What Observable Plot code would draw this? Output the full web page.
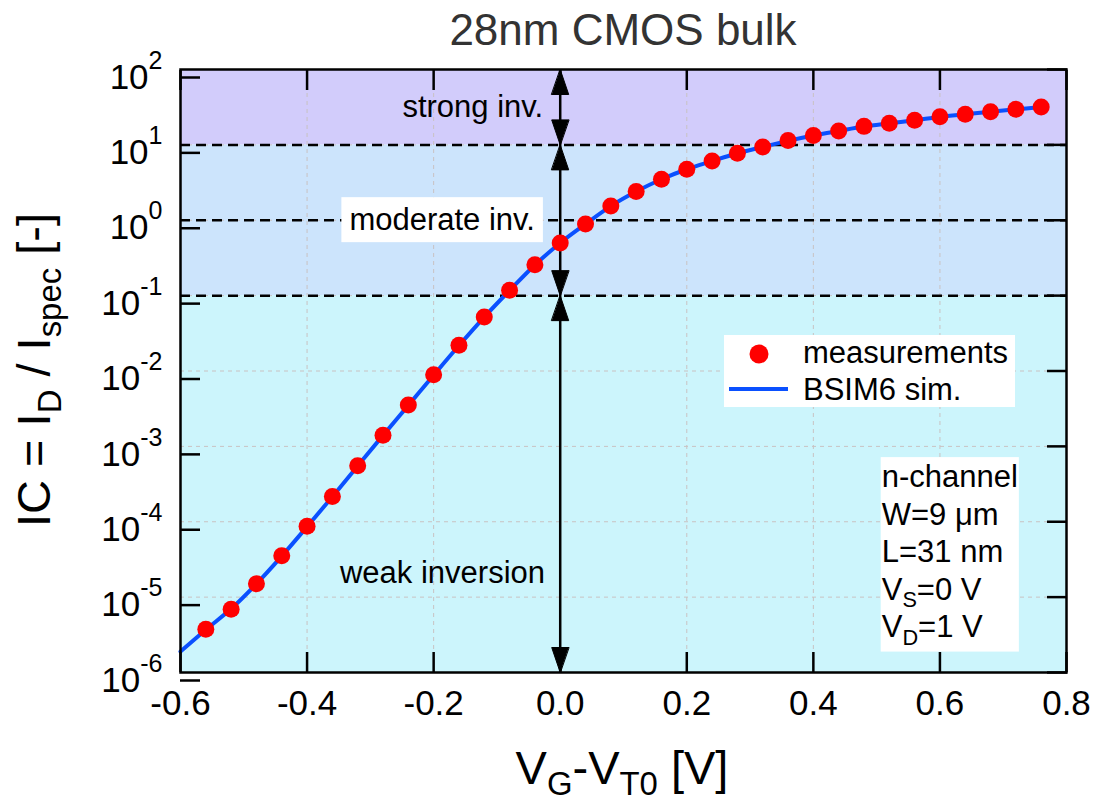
<!DOCTYPE html>
<html>
<head>
<meta charset="utf-8">
<script src="https://cdn.jsdelivr.net/npm/d3@7"></script>
<script src="https://cdn.jsdelivr.net/npm/@observablehq/plot@0.6"></script>
<style>
  body { margin: 0; background: #fff; font-family: "Liberation Sans", Arial, sans-serif; overflow: hidden; }
  #title { box-sizing: border-box; height: 52px; padding: 8px 28px 0 180px; font-size: 44px; line-height: 44px; color: #333; text-align: center; }
  #chart { height: 750px; }
  svg { overflow: visible; display: block; }
</style>
</head>
<body>
<div id="title">28nm CMOS bulk</div>
<div id="chart"></div>
<script>
// ---- data ----
const xMeas = [-0.56,-0.52,-0.48,-0.44,-0.40,-0.36,-0.32,-0.28,-0.24,-0.20,-0.16,-0.12,-0.08,-0.04,
               0.00,0.04,0.08,0.12,0.16,0.20,0.24,0.28,0.32,0.36,0.40,0.44,0.48,0.52,0.56,0.60,0.64,0.68,0.72,0.76];
const icMeas = [3.75e-6,6.9e-6,1.5e-5,3.55e-5,8.7e-5,2.17e-4,5.55e-4,1.4e-3,3.55e-3,8.9e-3,0.022,0.052,0.118,0.257,
                0.50,0.89,1.55,2.4,3.5,4.75,6.1,7.75,9.4,11.4,13.3,15.3,17.6,19.3,21.2,23.6,25.5,27.6,29.6,31.8];
const xSim = [-0.60,-0.56,-0.52,-0.48,-0.44,-0.40,-0.36,-0.32,-0.28,-0.24,-0.20,-0.16,-0.12,-0.08,-0.04,
              0.00,0.04,0.08,0.12,0.16,0.20,0.24,0.28,0.32,0.36,0.40,0.44,0.48,0.52,0.56,0.60,0.64,0.68,0.72,0.76];
const icSim = [1.9e-6,3.7e-6,7.0e-6,1.5e-5,3.5e-5,8.6e-5,2.15e-4,5.5e-4,1.4e-3,3.5e-3,8.8e-3,0.0218,0.052,0.117,0.255,
               0.50,0.89,1.54,2.4,3.5,4.75,6.1,7.75,9.4,11.3,13.3,15.3,17.5,19.3,21.2,23.5,25.5,27.6,29.6,31.8];
const xTicks = [-0.6,-0.4,-0.2,0.0,0.2,0.4,0.6,0.8];
const yTicks = [1e-6,1e-5,1e-4,1e-3,1e-2,1e-1,1,10,100];
const regionNames = ["weak","moderate","strong"];
const regionLo = [1e-6, 0.1, 10];
const regionHi = [0.1, 10, 100];
const regionColors = ["#ccf5fc","#cce4fc","#d2ccfb"];
const boundaries = [0.1, 1, 10];
const arrowTipY = [100, 10, 10, 0.1, 0.1, 1e-6];
const arrowTipDir = ["up","down","up","down","up","down"];
const plainLabels = ["strong inv.","weak inversion"];
const plainLabelX = [-0.027, -0.024];
const plainLabelY = [31.6, 2.1e-5];
const boxedLabels = ["moderate inv."];
const boxedLabelX = [-0.04];
const boxedLabelY = [1];
const deviceInfo = ["n-channel","W=9 μm","L=31 nm","V_{S}=0 V","V_{D}=1 V"];
const deviceInfoX = [0.508];
const deviceInfoY = [6.5e-4];

// ---- build tables ----
const meas = xMeas.map((x, i) => ({x, ic: icMeas[i]}));
const sim = xSim.map((x, i) => ({x, ic: icSim[i]}));
const regions = regionNames.map((name, i) => ({name, lo: regionLo[i], hi: regionHi[i]}));
const tips = arrowTipY.map((y, i) => ({y, dir: arrowTipDir[i]}));
const plain = plainLabels.map((t, i) => ({t, x: plainLabelX[i], y: plainLabelY[i]}));
const boxed = boxedLabels.map((t, i) => ({t, x: boxedLabelX[i], y: boxedLabelY[i]}));
const info = [{t: deviceInfo.join("\n"), x: deviceInfoX[0], y: deviceInfoY[0]}];

const head = {draw(ctx, l) { ctx.moveTo(0, 0); ctx.lineTo(-8.5, -l); ctx.lineTo(8.5, -l); ctx.closePath(); }};
const gridStyle = {stroke: "#c9c2c2", strokeDasharray: "4,4", strokeOpacity: 1, strokeWidth: 1};

const svg = Plot.plot({
  width: 1094, height: 750,
  marginLeft: 180, marginRight: 28, marginTop: 17, marginBottom: 130,
  style: {fontFamily: '"Liberation Sans", Arial, sans-serif', fontSize: "35px", color: "black", background: "transparent", overflow: "visible"},
  x: {domain: [-0.6, 0.8]},
  y: {type: "log", domain: [1e-6, 100]},
  color: {domain: regionNames, range: regionColors},
  marks: [
    Plot.rect(regions, {y1: "lo", y2: "hi", fill: "name"}),
    Plot.gridX({ticks: xTicks, ...gridStyle}),
    Plot.gridY({ticks: yTicks, ...gridStyle}),
    Plot.ruleY(boundaries, {stroke: "black", strokeWidth: 2.5, strokeDasharray: "10,6"}),
    Plot.ruleX([0], {stroke: "black", strokeWidth: 2.5}),
    Plot.vector(tips, {x: 0, y: "y", rotate: d => d.dir === "up" ? 180 : 0, length: 25, anchor: "start",
                       shape: head, fill: "black", stroke: "black", strokeWidth: 1}),
    Plot.line(sim, {x: "x", y: "ic", stroke: "#0a50ff", strokeWidth: 4, curve: "catmull-rom"}),
    Plot.dot(meas, {x: "x", y: "ic", r: 8.5, fill: "#ff0000"}),
    Plot.text(plain, {x: "x", y: "y", text: "t", textAnchor: "end", fontSize: 31, fill: "black"}),
    Plot.text(boxed, {x: "x", y: "y", text: "t", textAnchor: "end", fontSize: 31, fill: "black"}),
    Plot.text(info, {x: "x", y: "y", text: "t", textAnchor: "start", lineAnchor: "top", lineHeight: 1.21, fontSize: 31, fill: "black"}),
    Plot.axisX({ticks: xTicks, tickFormat: d => d.toFixed(1), tickSize: -20, tickPadding: 38, strokeWidth: 2.5, label: null}),
    Plot.axisX({anchor: "top", ticks: xTicks, tickFormat: () => "", tickSize: -20, strokeWidth: 2.5, label: null}),
    Plot.axisY({ticks: yTicks, tickFormat: d => String(Math.round(Math.log10(d))), tickSize: -20, tickPadding: 38, dy: 8, strokeWidth: 2.5, label: null}),
    Plot.axisY({anchor: "right", ticks: yTicks, tickFormat: () => "", tickSize: -20, strokeWidth: 2.5, label: null}),
    Plot.frame({stroke: "black", strokeWidth: 2.5})
  ]
});
document.getElementById("chart").appendChild(svg);

const SVGNS = "http://www.w3.org/2000/svg";
// ---- rich text helpers ----
function richify(node, fs) {
  const s = node.textContent;
  if (!/[_^]\{/.test(s)) return;
  const parts = s.split(/([_^]\{[^}]*\})/).filter(p => p !== "");
  node.textContent = "";
  let shift = 0;
  for (const p of parts) {
    const ts = document.createElementNS(SVGNS, "tspan");
    const m = p.match(/^([_^])\{([^}]*)\}$/);
    if (m) {
      const target = m[1] === "_" ? 0.24 * fs : -0.42 * fs;
      ts.setAttribute("dy", target - shift);
      ts.setAttribute("font-size", 0.7 * fs);
      ts.textContent = m[2];
      shift = target;
    } else {
      if (shift !== 0) ts.setAttribute("dy", -shift);
      ts.textContent = p;
      shift = 0;
    }
    node.appendChild(ts);
  }
}

const root = d3.select(svg);

// y tick labels as 10^n
root.selectAll('g[aria-label="y-axis tick label"] text').each(function() {
  const e = this.textContent;
  if (!e) return;
  this.textContent = "";
  const a = document.createElementNS(SVGNS, "tspan");
  a.textContent = "10";
  const b = document.createElementNS(SVGNS, "tspan");
  b.setAttribute("dy", -20);
  b.setAttribute("font-size", 25);
  b.textContent = e;
  this.appendChild(a); this.appendChild(b);
});

// text mark groups in order: plain labels, boxed label, device info
const textGroups = root.selectAll('g[aria-label="text"]').nodes();
const boxedGroup = textGroups[1];
const infoGroup = textGroups[2];

// subscripts in device info
infoGroup.querySelectorAll("text").forEach(t => {
  const spans = t.querySelectorAll("tspan");
  if (spans.length) spans.forEach(s => richify(s, 31)); else richify(t, 31);
});

// white boxes behind labels
function boxBehind(group, padX, padY) {
  group.querySelectorAll("text").forEach(t => {
    const bb = t.getBBox();
    const r = document.createElementNS(SVGNS, "rect");
    r.setAttribute("x", bb.x - padX);
    r.setAttribute("y", bb.y - padY);
    r.setAttribute("width", bb.width + 2 * padX);
    r.setAttribute("height", bb.height + 2 * padY);
    r.setAttribute("fill", "white");
    r.setAttribute("stroke", "none");
    const tr = t.getAttribute("transform");
    if (tr) r.setAttribute("transform", tr);
    t.parentNode.insertBefore(r, t);
  });
}
boxBehind(boxedGroup, 8, 5);
boxBehind(infoGroup, 1, 2);

// axis titles
const xl = root.append("text").attr("x", 622).attr("y", 732).attr("text-anchor", "middle")
  .attr("font-size", 47).attr("fill", "black").text("V_{G}-V_{T0} [V]");
richify(xl.node(), 47);
const yl = root.append("text").attr("transform", "translate(50,318) rotate(-90)").attr("text-anchor", "middle")
  .attr("font-size", 47).attr("fill", "black").text("IC = I_{D} / I_{spec} [-]");
richify(yl.node(), 47);

// legend
const lg = root.append("g").attr("font-size", 31).attr("fill", "black").attr("text-anchor", "start");
lg.append("rect").attr("x", 724).attr("y", 283).attr("width", 291).attr("height", 72).attr("fill", "white");
lg.append("circle").attr("cx", 759).attr("cy", 302).attr("r", 9.5).attr("fill", "#ff0000");
lg.append("line").attr("x1", 729).attr("x2", 788).attr("y1", 337).attr("y2", 337).attr("stroke", "#0a50ff").attr("stroke-width", 4);
lg.append("text").attr("x", 803).attr("y", 311).attr("text-anchor", "start").text("measurements");
lg.append("text").attr("x", 803).attr("y", 348).attr("text-anchor", "start").text("BSIM6 sim.");
</script>
</body>
</html>
